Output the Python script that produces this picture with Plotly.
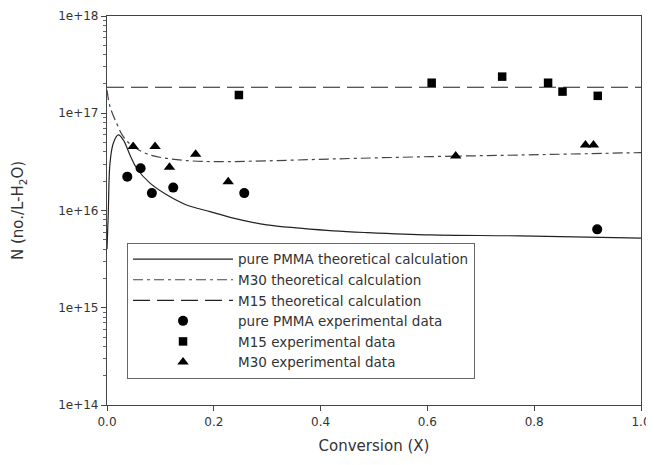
import plotly.graph_objects as go

# Theoretical curves
pmma_theory_x = [0.0, 0.0024, 0.0056, 0.0118, 0.0212, 0.0305, 0.043, 0.0556, 0.0805, 0.1118,
                 0.149, 0.193, 0.2365, 0.299, 0.361, 0.424, 0.486, 0.605, 0.773, 1.0]
pmma_theory_y = [4.0e15, 9.4e15, 3.06e16, 4.92e16, 5.98e16, 5.32e16, 3.72e16, 2.72e16, 1.91e16, 1.45e16,
                 1.14e16, 9.75e15, 8.34e15, 7.11e15, 6.58e15, 6.17e15, 5.93e15, 5.61e15, 5.48e15, 5.19e15]

m30_theory_x = [0.0, 0.0056, 0.018, 0.0305, 0.049, 0.0805, 0.112, 0.149, 0.205, 0.299,
                0.424, 0.605, 0.773, 1.0]
m30_theory_y = [1.73e17, 1.17e17, 7.89e16, 5.75e16, 4.54e16, 3.72e16, 3.44e16, 3.26e16, 3.18e16, 3.24e16,
                3.39e16, 3.58e16, 3.72e16, 3.94e16]

m15_theory_x = [0.0, 1.0]
m15_theory_y = [1.85e17, 1.85e17]

# Experimental data
pmma_exp_x = [0.038, 0.063, 0.084, 0.124, 0.257, 0.918]
pmma_exp_y = [2.23e16, 2.72e16, 1.51e16, 1.72e16, 1.51e16, 6.4e15]

m15_exp_x = [0.247, 0.608, 0.740, 0.826, 0.853, 0.919]
m15_exp_y = [1.54e17, 2.06e17, 2.38e17, 2.06e17, 1.67e17, 1.51e17]

m30_exp_x = [0.049, 0.090, 0.117, 0.166, 0.227, 0.653, 0.896, 0.911]
m30_exp_y = [4.54e16, 4.54e16, 2.79e16, 3.79e16, 1.98e16, 3.64e16, 4.72e16, 4.72e16]

x_ticks = [0.0, 0.2, 0.4, 0.6, 0.8, 1.0]
x_tick_labels = ["0.0", "0.2", "0.4", "0.6", "0.8", "1.0"]
y_ticks = [1e14, 1e15, 1e16, 1e17, 1e18]
y_tick_labels = ["1e+14", "1e+15", "1e+16", "1e+17", "1e+18"]

fig = go.Figure()
fig.add_trace(go.Scatter(x=pmma_theory_x, y=pmma_theory_y, mode="lines",
                         line=dict(color="#222", width=1.2, shape="spline"),
                         name="pure PMMA theoretical calculation"))
fig.add_trace(go.Scatter(x=m30_theory_x, y=m30_theory_y, mode="lines",
                         line=dict(color="#444", width=1.2, dash="10px,4px,3px,4px", shape="spline"),
                         name="M30 theoretical calculation"))
fig.add_trace(go.Scatter(x=m15_theory_x, y=m15_theory_y, mode="lines",
                         line=dict(color="#222", width=1.2, dash="17px,7px"),
                         name="M15 theoretical calculation"))
fig.add_trace(go.Scatter(x=pmma_exp_x, y=pmma_exp_y, mode="markers",
                         marker=dict(symbol="circle", size=10, color="black"),
                         name="pure PMMA experimental data"))
fig.add_trace(go.Scatter(x=m15_exp_x, y=m15_exp_y, mode="markers",
                         marker=dict(symbol="square", size=8.5, color="black"),
                         name="M15 experimental data"))
fig.add_trace(go.Scatter(x=m30_exp_x, y=m30_exp_y, mode="markers",
                         marker=dict(symbol="triangle-up", size=10, color="black"),
                         name="M30 experimental data"))

font = "DejaVu Sans, Verdana, sans-serif"
# The page body has an 8px margin; margins compensate so the plot area sits where the reference's does.
fig.update_layout(
    width=654, height=465,
    margin=dict(l=99, r=21, t=8, b=68, autoexpand=False),
    paper_bgcolor="white", plot_bgcolor="white",
    font=dict(family=font, size=12, color="#333"),
    showlegend=True,
    legend=dict(x=0.0375, y=0.067, xanchor="left", yanchor="bottom",
                bordercolor="#666", borderwidth=1, bgcolor="white",
                font=dict(size=13.5, color="#333"), itemwidth=100,
                tracegroupgap=0, traceorder="normal"),
    xaxis=dict(range=[0, 1], tickvals=x_ticks, ticktext=x_tick_labels,
               ticks="outside", ticklen=5, tickcolor="#444", automargin=False,
               ticklabeloverflow="allow",
               showline=True, linecolor="#444", linewidth=1.2, mirror=True,
               showgrid=False, zeroline=False,
               title=dict(text="Conversion (X)", font=dict(size=15, color="#333"), standoff=12),
               tickfont=dict(size=12, color="#333")),
    yaxis=dict(type="log", range=[14, 18], tickvals=y_ticks, ticktext=y_tick_labels,
               ticks="outside", ticklen=5, tickcolor="#444", automargin=False,
               ticklabeloverflow="allow",
               minor=dict(ticks="outside", ticklen=3, tickcolor="#666", dtick="D1", showgrid=False),
               showline=True, linecolor="#444", linewidth=1.2, mirror=True,
               showgrid=False, zeroline=False,
               title=dict(text="N (no./L-H<sub>2</sub>O)", font=dict(size=15, color="#333"), standoff=30),
               tickfont=dict(size=12, color="#333")),
)

fig.write_html("out.html")
